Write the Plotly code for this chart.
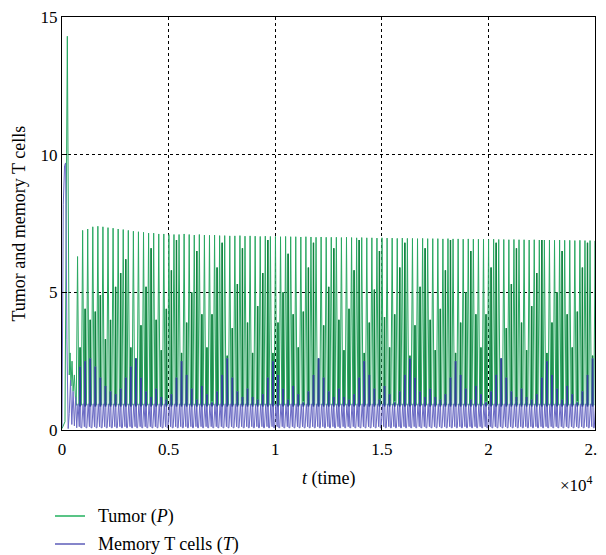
import plotly.graph_objects as go

# ---------------- data ----------------
# early transient
trans_t = [0, 140, 250, 300, 340, 380, 420, 470, 520, 580, 640, 690]
trans_P = [0.05, 0.3, 14.3, 8.7, 2.0, 2.8, 1.6, 2.5, 1.4, 2.0, 1.0, 0.9]
trans_Tt = [0, 60, 120, 170, 230, 290, 340, 400, 460, 520, 580, 640, 690]
trans_T = [0.1, 8.2, 9.6, 9.7, 3.3, 0.05, 0.6, 1.8, 0.2, 1.4, 0.15, 1.2, 0.1]

# regular oscillation: one entry per cycle
T_START = 730
PERIOD = 238
tumor_peak = [
    6.3, 7.25, 7.3, 7.38, 7.4, 7.38, 7.35, 7.33, 7.3, 7.28,
    7.25, 7.22, 7.2, 7.18, 7.15, 7.15, 7.12, 7.12, 7.1, 7.1,
    7.1, 7.12, 7.1, 7.08, 7.1, 7.08, 7.07, 7.08, 7.06, 7.06,
    7.05, 7.05, 7.06, 7.04, 7.05, 7.04, 7.03, 7.04, 7.03, 7.03,
    7.02, 7.03, 7.02, 7.02, 7.01, 7.02, 7.01, 7.0, 7.01, 7.0,
    7.0, 7.0, 6.99, 7.0, 6.99, 6.98, 6.99, 6.98, 6.98, 6.97,
    6.98, 6.97, 6.97, 6.96, 6.97, 6.96, 6.96, 6.95, 6.96, 6.95,
    6.95, 6.95, 6.94, 6.95, 6.94, 6.94, 6.93, 6.94, 6.93, 6.93,
    6.93, 6.92, 6.93, 6.92, 6.92, 6.91, 6.92, 6.91, 6.91, 6.9,
    6.91, 6.9, 6.9, 6.9, 6.89, 6.9, 6.89, 6.89, 6.88, 6.89,
    6.88, 6.88, 6.87]
tumor_second = [
    3.0, 4.4, 4.0, 4.3, 4.9, 3.3, 4.0, 5.2, 5.7, 6.2, 3.0,
    2.6, 3.8, 5.2, 6.6, 4.0, 2.9, 4.4, 5.8, 6.9,
    2.8, 3.9, 5.0, 6.5, 4.2, 3.0, 4.2, 5.9, 6.8,
    2.7, 3.7, 5.3, 6.6, 3.9, 2.8, 4.5, 5.7, 6.9,
    2.8, 3.9, 5.0, 6.4, 4.2, 3.0, 4.3, 5.9, 6.8,
    2.6, 3.8, 5.2, 6.6, 4.0, 2.9, 4.4, 5.8, 6.9,
    2.8, 3.9, 5.1, 6.5, 4.1, 3.0, 4.2, 5.9, 6.8,
    2.7, 3.8, 5.2, 6.6, 4.0, 2.9, 4.4, 5.8, 6.9,
    2.8, 3.9, 5.0, 6.5, 4.2, 3.0, 4.2, 5.9, 6.8,
    2.6, 3.7, 5.3, 6.6, 3.9, 2.9, 4.5, 5.7, 6.9,
    2.8, 3.9, 5.0, 6.5, 4.2, 3.0, 4.3, 5.9, 6.8,
    2.7, 3.8]
tcell_peak = [0.95] * 103
tcell_second = [
    2.3, 2.5, 2.6, 2.3, 1.9, 1.6, 1.4, 1.3, 1.5, 1.9, 2.3,
    2.6, 1.9, 1.4, 1.2, 1.5, 1.2, 1.1, 1.3, 1.9,
    2.5, 2.0, 1.5, 1.1, 1.6, 1.3, 1.0, 1.4, 2.0,
    2.6, 1.9, 1.4, 1.2, 1.5, 1.2, 1.1, 1.3, 1.9,
    2.5, 2.0, 1.5, 1.1, 1.6, 1.3, 1.0, 1.4, 2.0,
    2.6, 1.9, 1.4, 1.2, 1.5, 1.2, 1.1, 1.3, 1.9,
    2.5, 2.0, 1.5, 1.1, 1.6, 1.3, 1.0, 1.4, 2.0,
    2.6, 1.9, 1.4, 1.2, 1.5, 1.2, 1.1, 1.3, 1.9,
    2.5, 2.0, 1.5, 1.1, 1.6, 1.3, 1.0, 1.4, 2.0,
    2.6, 1.9, 1.4, 1.2, 1.5, 1.2, 1.1, 1.3, 1.9,
    2.5, 2.0, 1.5, 1.1, 1.6, 1.3, 1.0, 1.4, 2.0,
    2.6, 1.9]
P_BASE = 0.9
P_BASE2 = 1.05
T_BASE = 0.08

x_tickvals = [0, 5000, 10000, 15000, 20000, 25000]
x_ticktext = ["0", "0.5", "1", "1.5", "2", "2.5"]
y_tickvals = [0, 5, 10, 15]

legend_names = ["Tumor (<i>P</i>)", "Memory T cells (<i>T</i>)"]
legend_colors = ["#22b05e", "#5d5db8"]

# ---------------- build polylines ----------------
Px, Py = list(trans_t), list(trans_P)
Tx, Ty = list(trans_Tt), list(trans_T)
dgx, dgy, dbx, dby = [], [], [], []
for i in range(len(tumor_peak)):
    t0 = T_START + i * PERIOD
    Px += [t0 - 60, t0, t0 + 60, t0 + 100, t0 + 118, t0 + 136]
    Py += [P_BASE, tumor_peak[i], P_BASE, P_BASE2, tumor_second[i], P_BASE2]
    Tx += [t0 - 40, t0 + 20, t0 + 80, t0 + 118, t0 + 156]
    Ty += [T_BASE, tcell_peak[i], 0.12, tcell_second[i], T_BASE]
    dgx += [t0 + 118, t0 + 118, None]
    dgy += [P_BASE2, tumor_second[i], None]
    dbx += [t0 + 118, t0 + 118, None]
    dby += [0.85, tcell_second[i], None]

FONT = "Liberation Serif, Times New Roman, serif"
fig = go.Figure()
fig.add_trace(go.Scatter(x=Px, y=Py, mode="lines", name=legend_names[0],
                         line=dict(color="#2aa862", width=1)))
fig.add_trace(go.Scatter(x=dgx, y=dgy, mode="lines",
                         line=dict(color="#12803f", width=1.5), hoverinfo="skip"))
fig.add_trace(go.Scatter(x=Tx, y=Ty, mode="lines", name=legend_names[1],
                         line=dict(color="#6a6ac4", width=1)))
fig.add_trace(go.Scatter(x=dbx, y=dby, mode="lines",
                         line=dict(color="#2f3f98", width=1.8), hoverinfo="skip"))

axis_common = dict(showline=True, linecolor="black", linewidth=1, mirror=True,
                   ticks="inside", ticklen=5, tickcolor="black", automargin=False,
                   ticklabeloverflow="allow",
                   showgrid=True, gridcolor="black", gridwidth=1, griddash="3px,3px",
                   zeroline=False, tickfont=dict(family=FONT, size=17, color="black"))
fig.update_xaxes(range=[0, 25000], tickvals=x_tickvals, ticktext=x_ticktext,
                 ticklabelstandoff=4, **axis_common)
fig.update_yaxes(range=[0, 15], tickvals=y_tickvals, **axis_common)

# The page body adds an 8 px offset; the figure is sized so that the plot
# area lands at page px x 62..595, y 17..430.
def px_x(p):
    return (p - 62) / 533.0

def px_y(p):
    return (430 - p) / 413.0

annotations = [
    dict(text="<i>t</i> (time)", x=0.5, y=px_y(478), xref="paper", yref="paper",
         xanchor="center", yanchor="middle", showarrow=False,
         font=dict(family=FONT, size=18)),
    dict(text="×10<sup>4</sup>", x=1.0, y=px_y(484), xref="paper", yref="paper",
         xanchor="right", yanchor="middle", showarrow=False,
         font=dict(family=FONT, size=17)),
    dict(text="Tumor and memory T cells", x=px_x(18), y=0.5, xref="paper", yref="paper",
         xanchor="center", yanchor="middle", textangle=-90, showarrow=False,
         font=dict(family=FONT, size=18)),
]
shapes = []
for k, (nm, col) in enumerate(zip(legend_names, legend_colors)):
    yy = px_y(516 + 28 * k)
    shapes.append(dict(type="line", xref="paper", yref="paper",
                       x0=px_x(55), x1=px_x(85), y0=yy, y1=yy,
                       line=dict(color=col, width=1.5)))
    annotations.append(dict(text=nm, x=px_x(96), y=yy, xref="paper", yref="paper",
                            xanchor="left", yanchor="middle", showarrow=False,
                            font=dict(family=FONT, size=18)))

fig.update_layout(
    width=606, height=547,
    margin=dict(l=54, r=19, t=9, b=125),
    plot_bgcolor="white", paper_bgcolor="white",
    font=dict(family=FONT, size=17, color="black"),
    showlegend=False,
    annotations=annotations,
    shapes=shapes,
)

fig.write_html("out.html")
